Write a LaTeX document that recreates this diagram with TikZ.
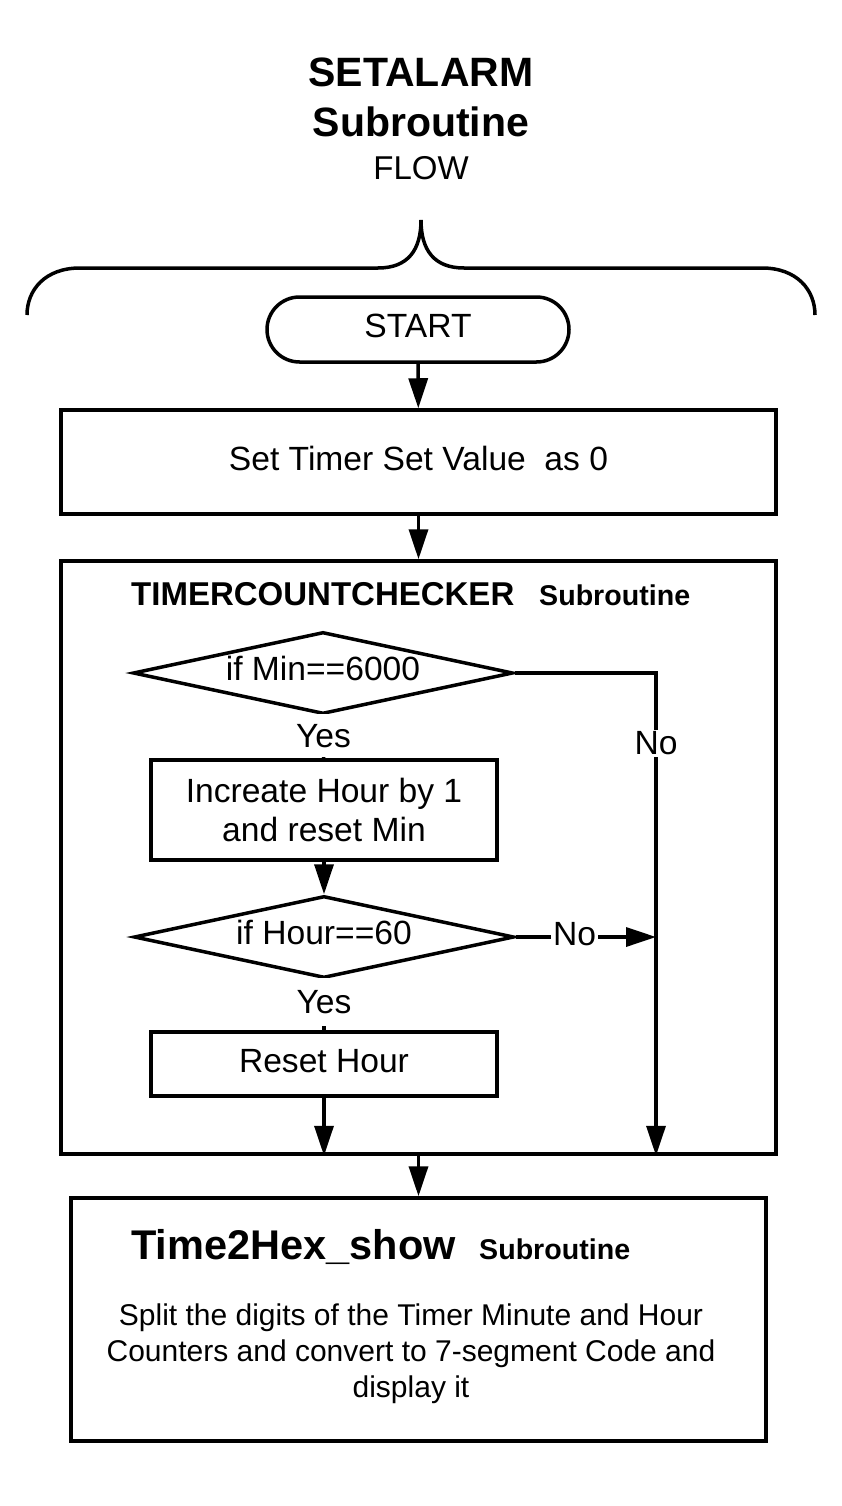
\documentclass[tikz,border=0pt]{standalone}
\usepackage{fontspec}
\setmainfont{Liberation Sans}
\usetikzlibrary{arrows.meta,shapes.geometric,shapes.misc}

\begin{document}
\begin{tikzpicture}[x=1pt,y=-1pt]
        \tikzstyle{box} = [draw, line width=3.5pt, inner sep=0pt, align=center, font=\fontsize{33.6}{39}\selectfont]
        \tikzstyle{oneline} = [text height=24pt, text depth=8pt]
        \tikzstyle{cond} = [diamond, draw, line width=3.5pt, inner sep=0pt, aspect=4.6, minimum width=380pt, minimum height=82pt, text height=24pt, text depth=10pt, font=\fontsize{33.6}{39}\selectfont]
        \tikzstyle{lbl} = [fill=white, inner sep=2pt, font=\fontsize{33.6}{39}\selectfont]
        \tikzstyle{head} = [anchor=base west, inner sep=0pt, font=\bfseries\fontsize{33}{40}\selectfont]
        \tikzstyle{arrow} = [line width=3.5pt, -{Triangle[length=30pt,width=19pt]}]

        \useasboundingbox (0,0) rectangle (842,1506);

        % title
        \node[font=\bfseries\fontsize{41}{48}\selectfont] (title) at (421,72) {SETALARM};
        \node[font=\bfseries\fontsize{41}{48}\selectfont] (sub) at (421,122) {Subroutine};
        \node[font=\fontsize{33}{40}\selectfont] (flow) at (421,168) {FLOW};

        % brace
        \draw[line width=3.5pt] (27,315) .. controls (27,290) and (45,268) .. (80,268) -- (378,268)
            .. controls (408,268) and (421,250) .. (421,220)
            .. controls (421,250) and (434,268) .. (464,268) -- (762,268)
            .. controls (797,268) and (815,290) .. (815,315);

        \node[box, oneline, rounded rectangle, minimum width=302pt, minimum height=65pt] (start) at (418,329.5) {START};
        \node[box, oneline, minimum width=715pt, minimum height=104pt] (setval) at (418.5,462) {Set Timer Set Value \ as 0};
        \node[box, minimum width=715pt, minimum height=593pt] (tcc) at (418.5,857.5) {};
        \node[head] (tcctitle) at (131,605) {TIMERCOUNTCHECKER};
        \node[head, font=\bfseries\fontsize{28.6}{34}\selectfont] (tccsub) at (539,605) {Subroutine};

        \node[cond] (dmin) at (323,673) {if Min==6000};
        \node[box, minimum width=346pt, minimum height=100pt] (inc) at (324,810) {Increate Hour by 1\\and reset Min};
        \node[cond] (dhour) at (324,937) {if Hour==60};
        \node[box, oneline, minimum width=346pt, minimum height=64pt] (reset) at (324,1064) {Reset Hour};
        \coordinate (join) at (656,937);

        \node[box, minimum width=695pt, minimum height=243pt] (show) at (418.5,1319.5) {};
        \node[head, font=\bfseries\fontsize{41.5}{48}\selectfont] (showtitle) at (131,1259) {Time2Hex\_show};
        \node[head, font=\bfseries\fontsize{28.6}{34}\selectfont] (showsub) at (479,1259) {Subroutine};
        \node[align=center, font=\fontsize{30}{36}\selectfont] (showtext) at (411,1354) {Split the digits of the Timer Minute and Hour\\Counters and convert to 7-segment Code and\\display it};

        \draw[arrow] (start) -- (setval);
        \draw[arrow] (setval) -- (tcc.north);
        \draw[arrow] (inc) -- (dhour);
        \draw[arrow] (tcc.south) -- (show);
        \draw[line width=3.5pt] (dmin) edge node[lbl, pos=0.47, minimum height=43pt] {Yes} (inc) (dhour) edge node[lbl, pos=0.45, minimum height=48pt] {Yes} (reset);
        \draw[arrow] (reset) -- (reset |- tcc.south);
        \draw[arrow] (dhour) -- node[lbl, oneline, pos=0.42] {No} (join);
        \draw[arrow] (dmin.east) -| node[lbl, pos=0.573] {No} (tcc.south -| join);

    \end{tikzpicture}
\end{document}
